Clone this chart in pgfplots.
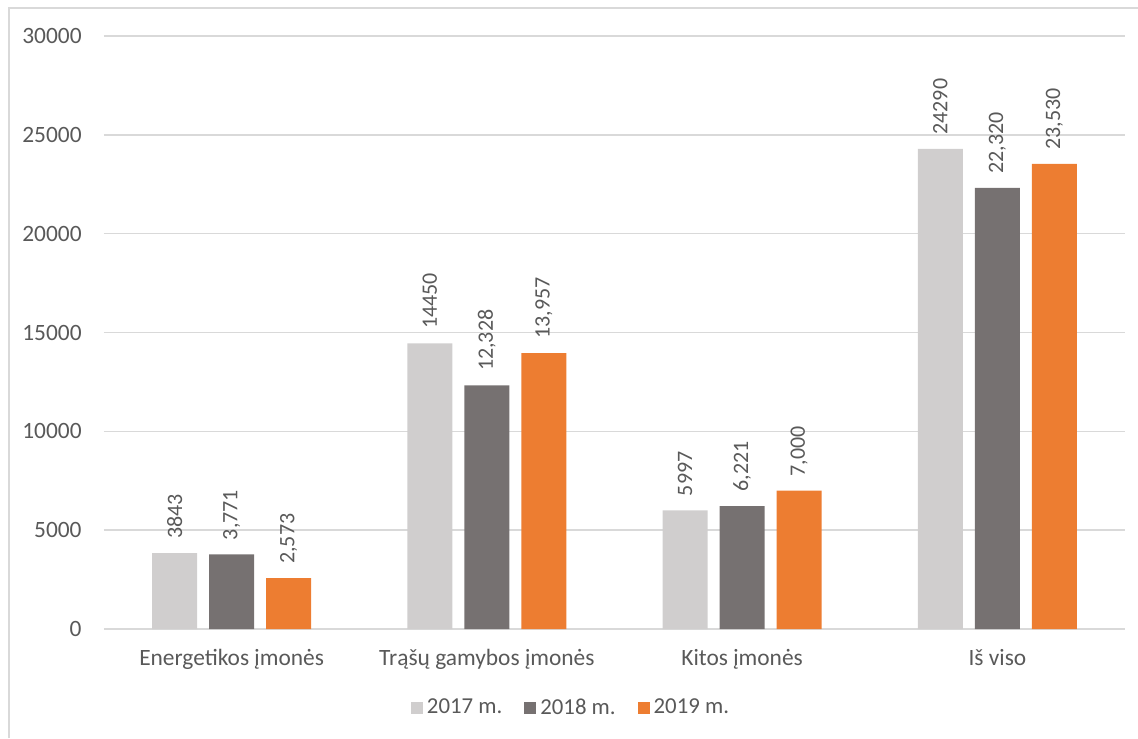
\documentclass[border=0pt]{standalone}
\usepackage{pgfplots}
\pgfplotsset{compat=1.18}
\usepackage{fontspec}
\setmainfont{Carlito}
\definecolor{c17}{HTML}{D0CECE}
\definecolor{c18}{HTML}{767171}
\definecolor{c19}{HTML}{ED7D31}
\definecolor{txt}{HTML}{595959}
\definecolor{grd}{HTML}{D9D9D9}
\begin{document}
\fontsize{10.6}{12.7}\selectfont
\begin{tikzpicture}
\useasboundingbox (-52pt,-54.5pt) rectangle (517pt,314.5pt);
\begin{axis}[
  at={(0,0)}, anchor=south west,
  width=510.5pt, height=296.5pt, scale only axis=true,
  xmin=-0.5, xmax=3.5, ymin=0, ymax=30000,
  ybar=6pt, bar width=22.5pt,
  axis lines*=left,
  x axis line style={draw=grd, line width=1pt},
  y axis line style={draw=none},
  major tick length=0pt,
  scaled y ticks=false,
  ytick={0,5000,10000,15000,20000,25000,30000},
  yticklabels={0,5000,10000,15000,20000,25000,30000},
  xtick={0,1,2,3},
  xticklabels={Energetikos įmonės, Trąšų gamybos įmonės, Kitos įmonės, Iš viso},
  ymajorgrids=true,
  major grid style={draw=grd, line width=0.7pt},
  tick label style={font=\fontsize{11.7}{14}\selectfont, text=txt},
  yticklabel style={anchor=east, inner sep=0pt, xshift=-11pt},
  xticklabel style={anchor=base, inner sep=0pt, yshift=-18pt},
  legend columns=3,
  legend style={at={(0.4564,-0.1332)}, anchor=center, draw=none, fill=none,
    font=\fontsize{11.4}{13.5}\selectfont, text=txt,
    /tikz/every even column/.append style={column sep=11pt},
    nodes={inner sep=0pt, anchor=west}},
  legend image code/.code={\fill[#1] (0pt,-3pt) rectangle (6pt,3pt);},
  point meta=explicit symbolic,
  nodes near coords,
  nodes near coords align={anchor=west},
  every node near coord/.append style={rotate=90, anchor=west, inner xsep=7pt, inner ysep=0pt, text=txt, font=\fontsize{11}{13}\selectfont},
  clip=false,
]
\addplot[fill=c17, draw=none]
  coordinates {(0,3843) [3843] (1,14450) [14450] (2,5997) [5997] (3,24290) [24290]};
\addlegendentry{\hspace{2pt}2017 m.}
\addplot[fill=c18, draw=none]
  coordinates {(0,3771) [{3,771}] (1,12328) [{12,328}] (2,6221) [{6,221}] (3,22320) [{22,320}]};
\addlegendentry{\hspace{2pt}2018 m.}
\addplot[fill=c19, draw=none]
  coordinates {(0,2573) [{2,573}] (1,13957) [{13,957}] (2,7000) [{7,000}] (3,23530) [{23,530}]};
\addlegendentry{\hspace{2pt}2019 m.}
\end{axis}
\draw[grd, line width=0.8pt] (-47.5pt,-54.5pt) -- (-47.5pt,310.5pt) -- (517pt,310.5pt);
\end{tikzpicture}
\end{document}
